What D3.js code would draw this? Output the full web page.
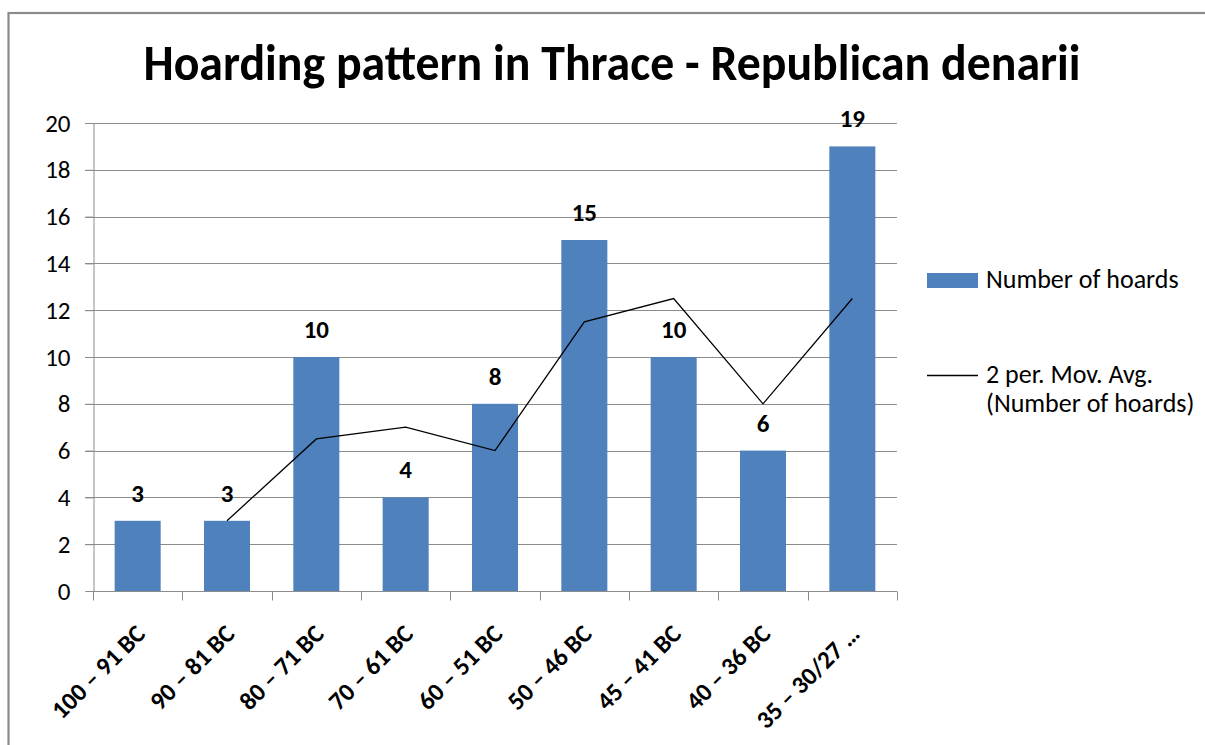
<!DOCTYPE html>
<html>
<head>
<meta charset="utf-8">
<script src="https://cdn.jsdelivr.net/npm/d3@7"></script>
<style>
  html, body { margin: 0; padding: 0; background: #fff; }
  svg { display: block; }
  text { font-family: Carlito, Calibri, Lato, sans-serif; fill: #000; }
</style>
</head>
<body>
<svg id="chart" width="1205" height="745"></svg>
<script>
const title = "Hoarding pattern in Thrace - Republican denarii";
const categories = ["100 – 91 BC", "90 – 81 BC", "80 – 71 BC", "70 – 61 BC", "60 – 51 BC",
                    "50 – 46 BC", "45 – 41 BC", "40 – 36 BC", "35 – 30/27 …"];
const hoards = [3, 3, 10, 4, 8, 15, 10, 6, 19];
// 2-period moving average as plotted (starts at second category)
const movAvgCats = ["90 – 81 BC", "80 – 71 BC", "70 – 61 BC", "60 – 51 BC",
                    "50 – 46 BC", "45 – 41 BC", "40 – 36 BC", "35 – 30/27 …"];
const movAvg = [3, 6.5, 7, 6, 11.5, 12.5, 8, 12.5];
const yTicks = [0, 2, 4, 6, 8, 10, 12, 14, 16, 18, 20];
const legendLabels = ["Number of hoards", "2 per. Mov. Avg.", "(Number of hoards)"];

const svg = d3.select("#chart");
const gridColor = "#8c8c8c";
const barColor = "#4f81bd";
const fontFam = "Carlito, Calibri, Lato, sans-serif";

// frame
svg.append("rect").attr("x", 8.5).attr("y", 13).attr("width", 1300).attr("height", 800)
  .attr("fill", "none").attr("stroke", "#8a8a8a").attr("stroke-width", 2.2);

const pLeft = 93, pRight = 897, pTop = 123, pBottom = 591;
const x = d3.scaleBand().domain(categories).range([pLeft, pRight]).paddingInner(0.485).paddingOuter(0.2425);
const xb = d3.scaleBand().domain(categories).range([pLeft, pRight]).padding(0);
const y = d3.scaleLinear().domain([0, 20]).range([pBottom, pTop]);

// title
svg.append("text").attr("x", 612).attr("y", 80).attr("text-anchor", "middle")
  .attr("font-size", 50).attr("font-weight", "bold")
  .attr("textLength", 937).attr("lengthAdjust", "spacingAndGlyphs")
  .text(title);

// gridlines
svg.append("g").selectAll("line").data(yTicks.filter(d => d > 0)).join("line")
  .attr("x1", pLeft - 8).attr("x2", pRight)
  .attr("y1", d => Math.round(y(d)) + 0.5).attr("y2", d => Math.round(y(d)) + 0.5)
  .attr("stroke", gridColor).attr("stroke-width", 1);

// y axis
const yAxis = svg.append("g").attr("transform", `translate(${pLeft + 0.5},0)`)
  .call(d3.axisLeft(y).tickValues(yTicks).tickSize(8).tickPadding(15));
yAxis.select(".domain").attr("stroke", gridColor);
yAxis.selectAll(".tick line").attr("stroke", gridColor);
yAxis.selectAll(".tick text").attr("font-size", 25).attr("font-family", fontFam).attr("fill", "#000");

// bars
svg.append("g").selectAll("rect").data(hoards).join("rect")
  .attr("x", (d, i) => x(categories[i]))
  .attr("width", x.bandwidth())
  .attr("y", d => y(d))
  .attr("height", d => y(0) - y(d))
  .attr("fill", barColor);

// x axis
const xAxisG = svg.append("g").attr("transform", `translate(0,${Math.round(pBottom) + 0.5})`);
xAxisG.append("line").attr("x1", pLeft).attr("x2", pRight).attr("stroke", gridColor);
const bounds = categories.map(c => xb(c)).concat([pRight]);
xAxisG.selectAll("line.tk").data(bounds).join("line").attr("class", "tk")
  .attr("x1", d => Math.round(d) + 0.5).attr("x2", d => Math.round(d) + 0.5)
  .attr("y1", 0).attr("y2", 9).attr("stroke", gridColor);
xAxisG.selectAll("text").data(categories).join("text")
  .attr("transform", c => `translate(${xb(c) + xb.bandwidth() / 2 + 9},${44}) rotate(-45)`)
  .attr("text-anchor", "end").attr("font-size", 25).attr("font-weight", "bold")
  .text(c => c);

// data labels
svg.append("g").selectAll("text").data(hoards).join("text")
  .attr("x", (d, i) => x(categories[i]) + x.bandwidth() / 2)
  .attr("y", d => y(d) - 19)
  .attr("text-anchor", "middle").attr("font-size", 25).attr("font-weight", "bold")
  .text(d => d);

// moving average line
const line = d3.line().x((d, i) => xb(movAvgCats[i]) + xb.bandwidth() / 2).y(d => y(d));
svg.append("path").datum(movAvg).attr("d", line)
  .attr("fill", "none").attr("stroke", "#000").attr("stroke-width", 1.3);

// legend
const lg = svg.append("g");
lg.append("rect").attr("x", 927).attr("y", 273).attr("width", 51).attr("height", 15).attr("fill", barColor);
lg.append("text").attr("x", 986).attr("y", 288).attr("font-size", 26).text(legendLabels[0]);
lg.append("line").attr("x1", 927).attr("x2", 978).attr("y1", 375.5).attr("y2", 375.5)
  .attr("stroke", "#000").attr("stroke-width", 1.3);
lg.append("text").attr("x", 986).attr("y", 383).attr("font-size", 26).text(legendLabels[1]);
lg.append("text").attr("x", 986).attr("y", 412).attr("font-size", 26).text(legendLabels[2]);
</script>
</body>
</html>
